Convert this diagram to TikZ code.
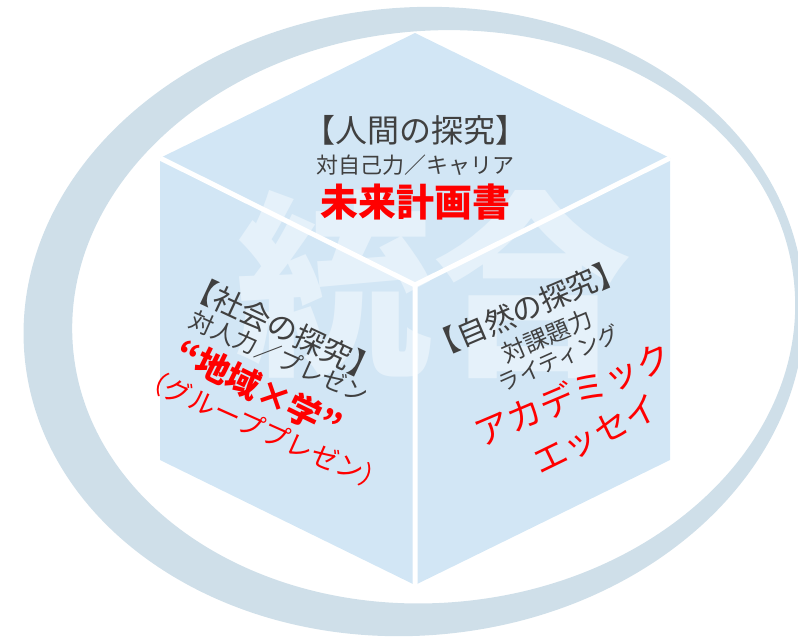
\documentclass[tikz,border=0pt]{standalone}
\usepackage{fontspec}
\setmainfont{Noto Sans CJK JP}
\usetikzlibrary{positioning}
\definecolor{ringblue}{RGB}{207,223,233}
\definecolor{faceblue}{RGB}{210,230,245}
\definecolor{markblue}{RGB}{229,241,250}
\definecolor{textgrey}{RGB}{64,64,64}

\begin{document}
\begin{tikzpicture}[x=1pt,y=-1pt,on grid,
    lbl/.style={text=textgrey,inner sep=0pt},
    outp/.style={text=red,inner sep=0pt},
    fs/.style={font=\fontsize{#1}{#1}\selectfont},
    fsb/.style={font=\fontsize{#1}{#1}\selectfont\bfseries}]
\useasboundingbox (0,0) rectangle (798,637);

% ring behind the cube
\fill[ringblue,even odd rule,rotate around={5:(420,321)}]
    (414,321) ellipse [x radius=391,y radius=314]
    (434,318) ellipse [x radius=362,y radius=286];

% cube
\coordinate (top) at (415,33);
\coordinate (ul) at (160,158);
\coordinate (ur) at (670,158);
\coordinate (mid) at (415,285);
\coordinate (ll) at (160,460);
\coordinate (lr) at (670,460);
\coordinate (bot) at (415,585);
\fill[faceblue] (top) -- (ur) -- (lr) -- (bot) -- (ll) -- (ul) -- cycle;
\node[text=markblue,inner sep=0pt,fsb=198] (mark) at (433,284) {統合};
\draw[white,line width=5pt] (ul) -- (mid) -- (ur) (mid) -- (bot);

% top face
\node[lbl,fs=32] (human) at (415,130) {【人間の探究】};
\node[lbl,fs=22,below=35pt of human] (humanskill) {対自己力／キャリア};
\node[outp,fsb=38,below=37pt of humanskill] (humanout) {未来計画書};

% left face
\node[lbl,fs=30,rotate=-25] (society) at (283,328) {【社会の探究】};
\node[lbl,fs=24,rotate=-24] (societyskill) at (279,357) {対人力／プレゼン};
\node[outp,fsb=34,rotate=-26] (societyout) at (259,389) {“地域×学”};
\node[outp,fs=27,rotate=-24] (societynote) at (264,430) {（グループプレゼン）};

% right face
\node[lbl,fs=30,rotate=23] (nature) at (527,308) {【自然の探究】};
\node[lbl,fs=24,rotate=23] (natureskill) at (547,336) {対課題力};
\node[lbl,fs=22,rotate=24] (naturesub) at (559,358) {ライティング};
\node[outp,fs=35,rotate=23] (natureout) at (573,394) {アカデミック};
\node[outp,fs=34,rotate=26] (natureend) at (596,435) {エッセイ};
\end{tikzpicture}
\end{document}
